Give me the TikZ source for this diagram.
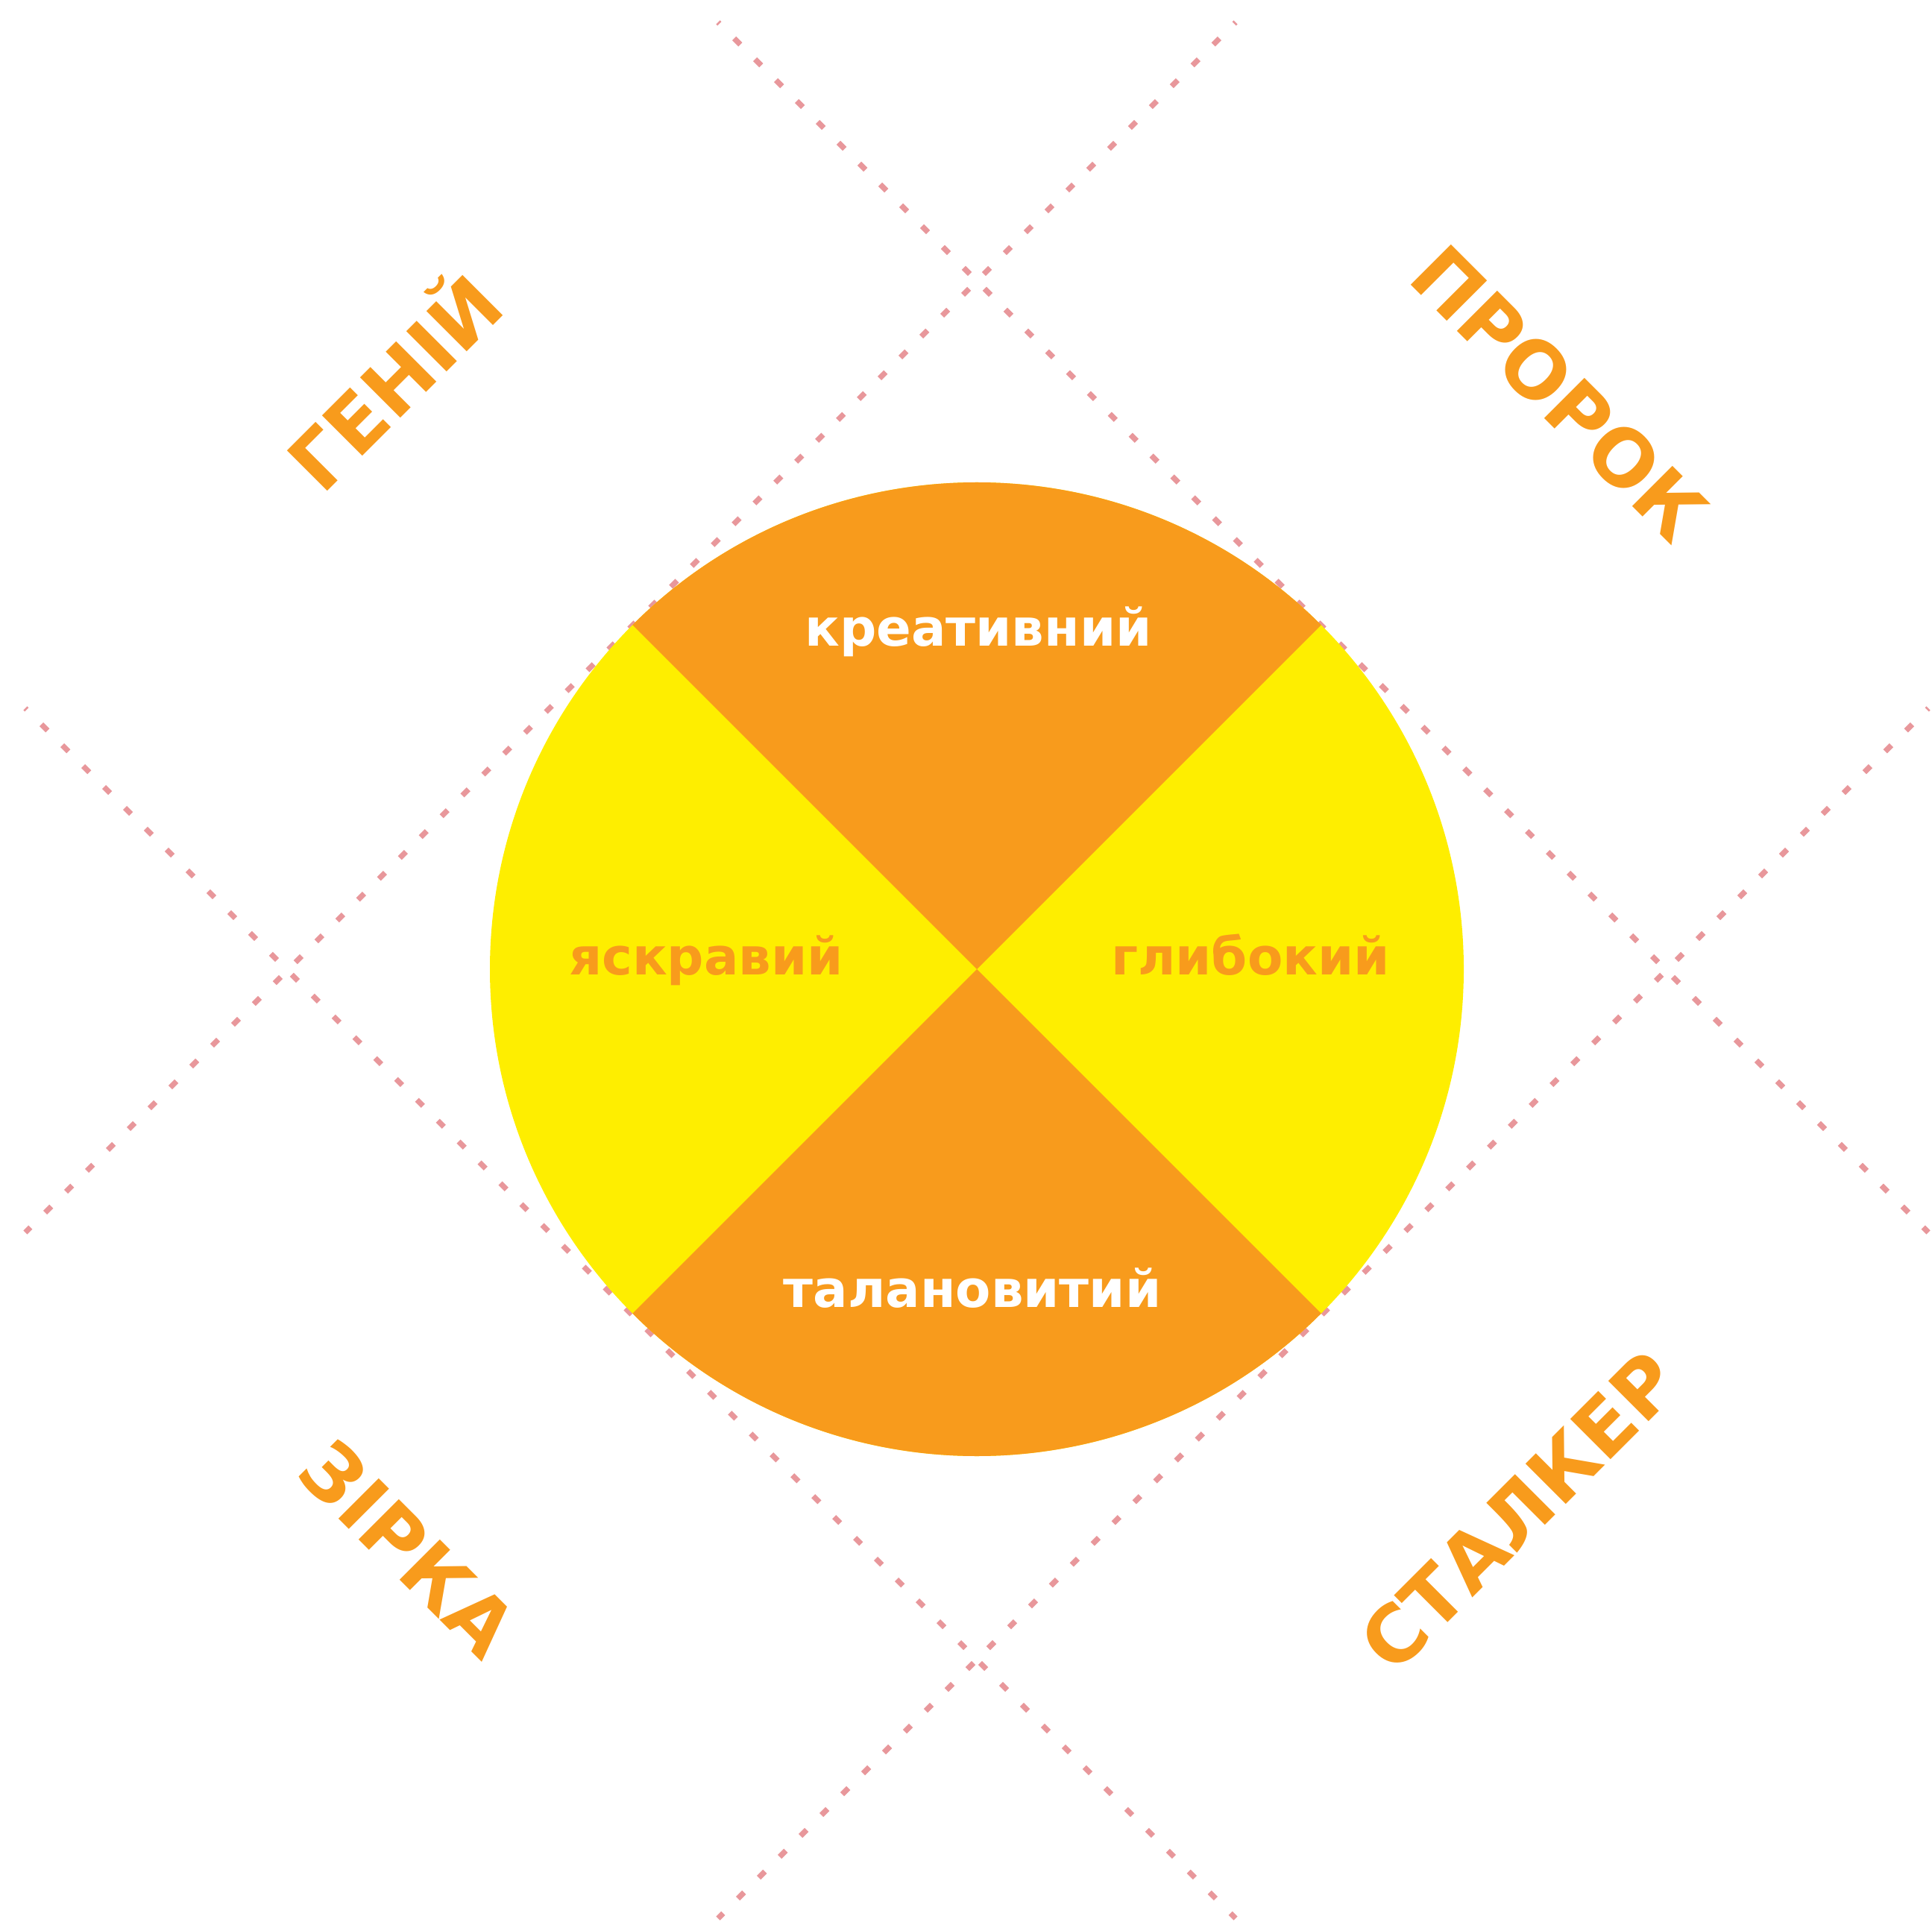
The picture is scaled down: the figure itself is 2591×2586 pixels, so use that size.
\documentclass[tikz,border=0pt]{standalone}
\usepackage{fontspec}
\setmainfont{DejaVu Sans}
\definecolor{sunorange}{HTML}{F89B1C}
\definecolor{sunyellow}{HTML}{FEEE00}
\definecolor{gridpink}{HTML}{E8979B}
\tikzset{
	grid line/.style={gridpink, line width=2.1pt, dash pattern=on 3.3pt off 7.95pt, dash phase=2.56pt},
	role/.style={font=\bfseries\fontsize{29.8}{31}\selectfont, text=sunorange, inner sep=0pt, text height=1.33ex, text depth=0pt},
}
\begin{document}
\begin{tikzpicture}[x=0.01cm, y=-0.01cm]
		\useasboundingbox (0,0) rectangle (2591,2586);

		% dotted diamond round the wheel
		\coordinate (a1) at (963,30);   \coordinate (a2) at (2586,1653);
		\coordinate (b1) at (1657,30);  \coordinate (b2) at (34,1653);
		\coordinate (c1) at (34,950);   \coordinate (c2) at (1657,2573);
		\coordinate (d1) at (2586,950); \coordinate (d2) at (963,2573);
		\draw [grid line] (a1) -- (a2);
		\draw [grid line] (b1) -- (b2);
		\draw [grid line] (c1) -- (c2);
		\draw [grid line] (d1) -- (d2);

		% the wheel
		\coordinate (c) at (1310,1300);
		\fill [sunyellow] (c) circle [radius=653];
		\fill [sunorange] (c) -- ++(45:653) arc [start angle=45, end angle=135, radius=653] -- cycle;
		\fill [sunorange] (c) -- ++(225:653) arc [start angle=225, end angle=315, radius=653] -- cycle;

		\begin{scope}[every node/.append style={font=\bfseries\fontsize{19.6}{21}\selectfont, inner sep=0pt, anchor=mid}]
			\node [text=white] (creative) at (1312,857) {креативний};
			\node [text=sunorange] (bright) at (947,1298) {яскравий};
			\node [text=sunorange] (deep) at (1677,1298) {глибокий};
			\node [text=white] (talented) at (1304,1744) {талановитий};
		\end{scope}

		\node [role, rotate=45] (genius) at (548,532) {ГЕНІЙ};
		\node [role, rotate=-45] (prophet) at (2073,545) {ПРОРОК};
		\node [role, rotate=-45] (star) at (530,2095) {ЗІРКА};
		\node [role, rotate=45] (stalker) at (2055,2045) {СТАЛКЕР};
	\end{tikzpicture}
\end{document}
